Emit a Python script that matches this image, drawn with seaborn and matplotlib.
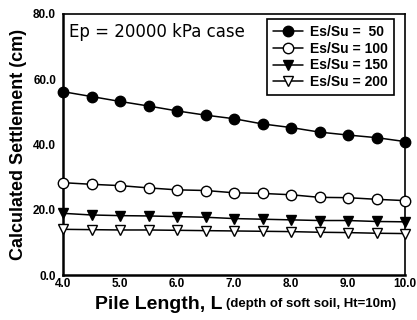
import matplotlib
matplotlib.use("Agg")
import matplotlib.pyplot as plt
import seaborn as sns
import pandas as pd
from matplotlib.ticker import MultipleLocator, FormatStrFormatter

# pile length (m)
pile_length = [4.0, 4.5, 5.0, 5.5, 6.0, 6.5, 7.0, 7.5, 8.0, 8.5, 9.0, 9.5, 10.0]

# calculated settlement (cm) for each Es/Su ratio
es_su_50 = [56.2, 54.7, 53.2, 51.8, 50.3, 49.0, 47.9, 46.3, 45.2, 43.8, 42.9, 42.1, 40.9]
es_su_100 = [28.3, 27.8, 27.4, 26.7, 26.1, 25.9, 25.2, 25.0, 24.6, 23.8, 23.7, 23.2, 22.8]
es_su_150 = [18.9, 18.4, 18.2, 18.1, 17.9, 17.7, 17.3, 17.1, 16.9, 16.7, 16.7, 16.4, 16.3]
es_su_200 = [14.0, 13.9, 13.8, 13.8, 13.7, 13.6, 13.5, 13.4, 13.3, 13.1, 13.0, 12.8, 12.7]

series_labels = ["Es/Su =  50", "Es/Su = 100", "Es/Su = 150", "Es/Su = 200"]

frames = []
for lab, vals in zip(series_labels, [es_su_50, es_su_100, es_su_150, es_su_200]):
    frames.append(pd.DataFrame({"L": pile_length, "S": vals, "case": lab}))
df = pd.concat(frames, ignore_index=True)

sns.set_style("white")
plt.rcParams["font.family"] = ["Liberation Sans", "DejaVu Sans"]
plt.rcParams["text.color"] = "black"
plt.rcParams["axes.labelcolor"] = "black"

fig = plt.figure(figsize=(4.17, 3.2), dpi=100)
ax = fig.add_axes([63 / 417, 45 / 320, 342 / 417, 261 / 320])

marker_styles = {
    series_labels[0]: dict(marker="o", mfc="black", ms=7.5),
    series_labels[1]: dict(marker="o", mfc="white", ms=7.5),
    series_labels[2]: dict(marker="v", mfc="black", ms=7),
    series_labels[3]: dict(marker="v", mfc="white", ms=7),
}

for lab in series_labels:
    sub = df[df["case"] == lab]
    st = marker_styles[lab]
    sns.lineplot(data=sub, x="L", y="S", ax=ax, color="black", lw=1.1,
                 marker=st["marker"], markersize=st["ms"],
                 markerfacecolor=st["mfc"], markeredgecolor="black",
                 markeredgewidth=1.0, label=lab, clip_on=False, zorder=3)

ax.set_xlim(4, 10)
ax.set_ylim(0, 80)
ax.xaxis.set_major_locator(MultipleLocator(1))
ax.xaxis.set_minor_locator(MultipleLocator(0.5))
ax.yaxis.set_major_locator(MultipleLocator(20))
ax.xaxis.set_major_formatter(FormatStrFormatter("%.1f"))
ax.yaxis.set_major_formatter(FormatStrFormatter("%.1f"))
ax.tick_params(axis="both", which="major", direction="in", length=3, width=1,
               labelsize=8.5, pad=5, colors="black")
ax.tick_params(axis="x", which="major", pad=2.5)
ax.tick_params(axis="x", which="minor", direction="in", length=2, width=0.8)
for t in ax.get_xticklabels() + ax.get_yticklabels():
    t.set_fontweight("bold")

for side, w in [("left", 1.8), ("bottom", 1.8), ("top", 1.2), ("right", 1.2)]:
    ax.spines[side].set_visible(True)
    ax.spines[side].set_color("black")
    ax.spines[side].set_linewidth(w)

ax.set_xlabel("")
ax.set_ylabel("Calculated Settlement (cm)", fontsize=13, fontweight="bold",
              labelpad=4, color="black")

ax.text(0.466, -0.112, "Pile Length, L", transform=ax.transAxes, ha="right",
        va="center", fontsize=14, fontweight="bold")
ax.text(0.478, -0.112, "(depth of soft soil, Ht=10m)", transform=ax.transAxes,
        ha="left", va="center", fontsize=9.5, fontweight="bold")

ax.text(0.018, 0.93, "Ep = 20000 kPa case", transform=ax.transAxes, ha="left",
        va="center", fontsize=12, family=["DejaVu Sans"])

leg = ax.legend(loc="upper right", bbox_to_anchor=(0.975, 0.99), frameon=True,
                fancybox=False, edgecolor="black", framealpha=1,
                prop={"weight": "bold", "size": 10}, handlelength=2.2,
                handletextpad=0.5, labelspacing=0.2, borderpad=0.4,
                borderaxespad=0.2)
leg.get_frame().set_linewidth(1.2)

fig.savefig("out.png", dpi=100)
